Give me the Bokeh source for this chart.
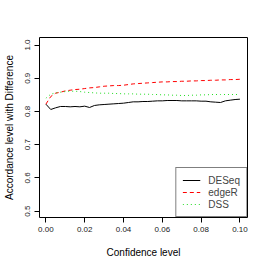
from bokeh.plotting import figure
from bokeh.models import FixedTicker, Legend, LegendItem, Range1d
from bokeh.embed import file_html
from bokeh.resources import INLINE

confidence = [0.0, 0.0025, 0.005, 0.0075, 0.01, 0.0125, 0.015, 0.0175, 0.02, 0.0225,
              0.025, 0.0275, 0.03, 0.0325, 0.035, 0.0375, 0.04, 0.0425, 0.045, 0.0475,
              0.05, 0.0525, 0.055, 0.0575, 0.06, 0.0625, 0.065, 0.0675, 0.07, 0.0725,
              0.075, 0.0775, 0.08, 0.0825, 0.085, 0.0875, 0.09, 0.0925, 0.095, 0.0975, 0.1]

deseq = [0.822, 0.806, 0.811, 0.815, 0.815, 0.814, 0.815, 0.814, 0.816, 0.812,
         0.818, 0.820, 0.821, 0.822, 0.823, 0.824, 0.825, 0.827, 0.829, 0.829,
         0.830, 0.830, 0.831, 0.832, 0.832, 0.833, 0.833, 0.833, 0.832, 0.832,
         0.832, 0.832, 0.831, 0.831, 0.829, 0.828, 0.827, 0.832, 0.834, 0.836, 0.837]

edger = [0.822, 0.845, 0.855, 0.858, 0.862, 0.864, 0.866, 0.867, 0.869, 0.871,
         0.872, 0.874, 0.876, 0.877, 0.878, 0.878, 0.879, 0.881, 0.883, 0.884,
         0.885, 0.886, 0.887, 0.888, 0.889, 0.889, 0.890, 0.890, 0.891, 0.891,
         0.892, 0.892, 0.893, 0.893, 0.894, 0.894, 0.895, 0.895, 0.896, 0.896, 0.897]

dss = [0.840, 0.852, 0.856, 0.858, 0.860, 0.861, 0.861, 0.860, 0.858, 0.857,
       0.856, 0.855, 0.855, 0.855, 0.854, 0.854, 0.853, 0.853, 0.853, 0.852,
       0.852, 0.852, 0.851, 0.851, 0.850, 0.850, 0.849, 0.849, 0.848, 0.848,
       0.849, 0.849, 0.850, 0.850, 0.851, 0.851, 0.851, 0.851, 0.851, 0.851, 0.851]

x_ticks = [0.0, 0.02, 0.04, 0.06, 0.08, 0.10]
x_tick_labels = ["0.00", "0.02", "0.04", "0.06", "0.08", "0.10"]
y_ticks = [0.5, 0.6, 0.7, 0.8, 0.9, 1.0]
y_tick_labels = ["0.5", "0.6", "0.7", "0.8", "0.9", "1.0"]

series_names = ["DESeq", "edgeR", "DSS"]
series_colors = ["black", "#FF0000", "#22DD22"]
series_dash = ["solid", "4 3", "1 3"]

FONT = "Liberation Sans"

p = figure(width=258, height=262, output_backend="svg", toolbar_location=None,
           x_range=Range1d(-0.0033, 0.1039), y_range=Range1d(0.481, 1.0226),
           min_border_left=37, min_border_right=11, min_border_top=37, min_border_bottom=45)

p.xgrid.visible = False
p.ygrid.visible = False
p.outline_line_color = "black"
p.outline_line_width = 1
p.background_fill_color = "white"
p.border_fill_color = "white"

renderers = []
for ys, c, d in zip([deseq, edger, dss], series_colors, series_dash):
    r = p.line(confidence, ys, line_color=c, line_width=1, line_dash=d)
    renderers.append(r)

p.xaxis.ticker = FixedTicker(ticks=x_ticks)
p.yaxis.ticker = FixedTicker(ticks=y_ticks)
p.xaxis.major_label_overrides = {t: l for t, l in zip(x_ticks, x_tick_labels)}
p.yaxis.major_label_overrides = {t: l for t, l in zip(y_ticks, y_tick_labels)}
p.yaxis.major_label_orientation = "vertical"

for ax in (p.xaxis, p.yaxis):
    ax.axis_line_color = None
    ax.major_tick_in = 0
    ax.major_tick_out = 5
    ax.minor_tick_in = 0
    ax.minor_tick_out = 0
    ax.major_tick_line_color = "black"
    ax.major_label_text_font = FONT
    ax.major_label_text_font_size = "8px"
    ax.major_label_text_color = "#222222"
    ax.axis_label_text_font = FONT
    ax.axis_label_text_font_size = "10px"
    ax.axis_label_text_font_style = "normal"
    ax.axis_label_text_color = "black"

p.xaxis.axis_label = "Confidence level"
p.yaxis.axis_label = "Accordance level with Difference"
p.xaxis.major_label_standoff = 4
p.xaxis.axis_label_standoff = 12
p.yaxis.major_label_standoff = 4
p.yaxis.axis_label_standoff = 8

legend = Legend(items=[LegendItem(label=n, renderers=[r]) for n, r in zip(series_names, renderers)],
                location="bottom_right", margin=0, padding=6, spacing=0,
                glyph_width=18, glyph_height=12, label_height=12, label_standoff=8,
                label_text_font=FONT, label_text_font_size="10px",
                border_line_color="black", border_line_width=1,
                background_fill_color="white", background_fill_alpha=1.0)
p.add_layout(legend)

open("out.html", "w").write(file_html(p, INLINE))
